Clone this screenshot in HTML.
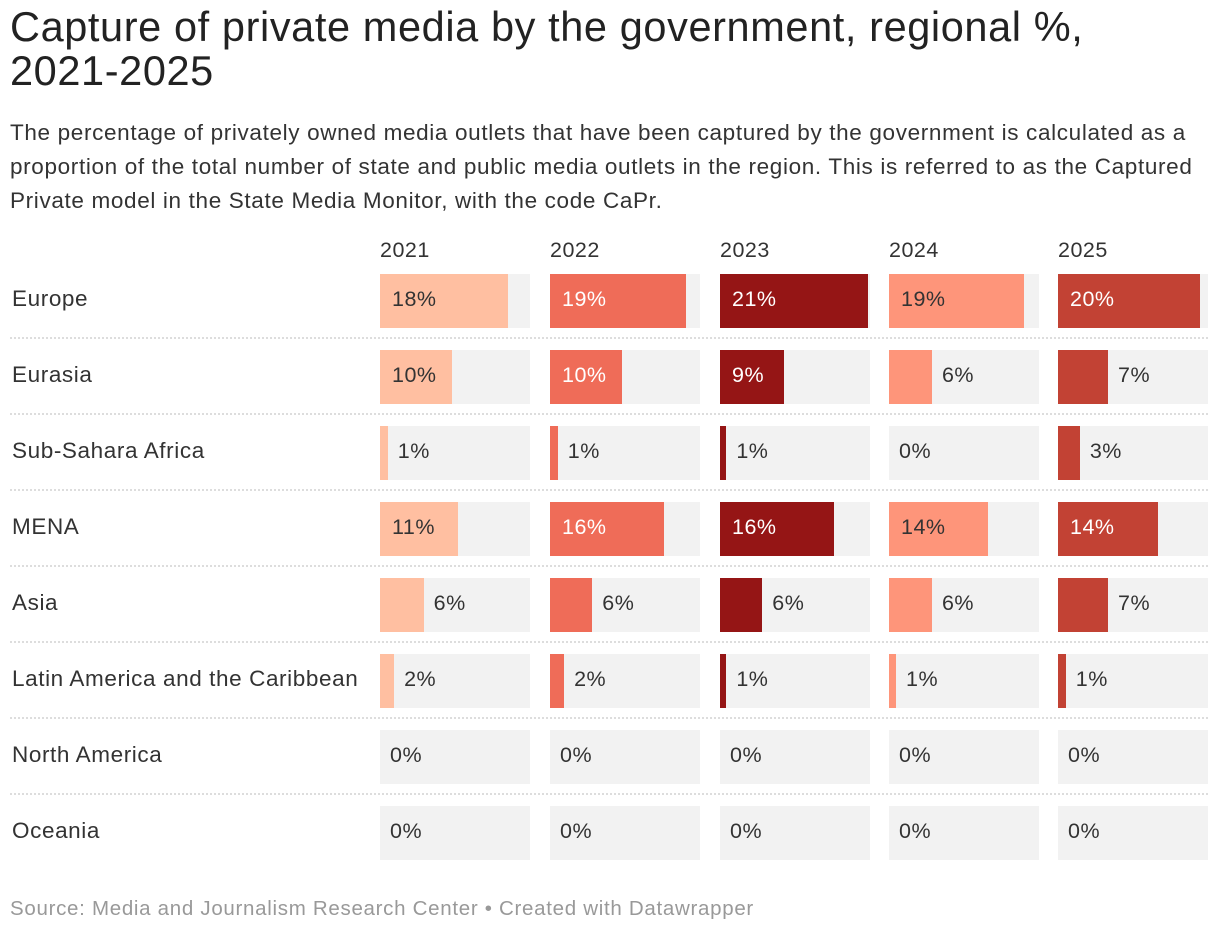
<!DOCTYPE html>
<html><head><meta charset="utf-8">
<style>
body{margin:0;background:#fff;font-family:"Liberation Sans",Arial,sans-serif;color:#333;}
#wrap{position:relative;width:1220px;height:934px;overflow:hidden;}
h1{position:absolute;left:10px;top:5px;margin:0;font-size:41.5px;font-weight:normal;line-height:44px;color:#222;width:1210px;white-space:nowrap;letter-spacing:0.6px;}
#desc{position:absolute;left:10px;top:116px;margin:0;font-size:22.5px;line-height:34px;color:#333;width:1210px;white-space:nowrap;letter-spacing:0.65px;}
.yr{position:absolute;top:238px;font-size:21.5px;color:#333;letter-spacing:0.5px;}
.rl{position:absolute;left:12px;font-size:22.5px;color:#333;line-height:50px;letter-spacing:0.6px;}
.bg{position:absolute;height:54px;background:#f2f2f2;}
.bar{position:absolute;height:54px;}
.val{position:absolute;font-size:21.5px;line-height:50px;letter-spacing:0.5px;}
.sep{position:absolute;left:10px;width:1198px;border-top:2px dotted #ddd;height:0;}
#src{position:absolute;left:10px;top:897px;font-size:20.5px;color:#999;letter-spacing:0.7px;}
</style></head><body>
<div id="wrap">
<h1>Capture of private media by the government, regional %,<br>2021-2025</h1>
<p id="desc">The percentage of privately owned media outlets that have been captured by the government is calculated as a<br>proportion of the total number of state and public media outlets in the region. This is referred to as the Captured<br>Private model in the State Media Monitor, with the code CaPr.</p>
<div id="grid"></div>
<div id="src">Source: Media and Journalism Research Center • Created with Datawrapper</div>
</div>
<script>
const regions=["Europe","Eurasia","Sub-Sahara Africa","MENA","Asia","Latin America and the Caribbean","North America","Oceania"];
const years=["2021","2022","2023","2024","2025"];
const v2021=[18.2,10.2,1.1,11.1,6.2,2.0,0,0];
const v2022=[19.3,10.2,1.1,16.2,6.0,2.0,0,0];
const v2023=[21.0,9.1,0.9,16.2,6.0,0.9,0,0];
const v2024=[19.1,6.1,0,14.0,6.1,1.0,0,0];
const v2025=[20.1,7.1,3.1,14.2,7.1,1.1,0,0];
const series=[v2021,v2022,v2023,v2024,v2025];
const colors=["#ffbfa1","#ef6c58","#951515","#fe957a","#c24234"];
const insideText=["#333","#fff","#fff","#333","#fff"];
const colX=[380,550,720,889,1058], colW=150, maxV=21.3;
const x=v=>v/maxV*colW;
const rowY=i=>274+i*76;
const g=document.getElementById('grid');
function add(cls,style,text){const d=document.createElement('div');d.className=cls;Object.assign(d.style,style);if(text!==undefined)d.textContent=text;g.appendChild(d);return d;}
years.forEach((y,j)=>{
  const e=add('yr',{left:colX[j]+'px'},y);
  
  
});
regions.forEach((r,i)=>{
  const l=add('rl',{top:rowY(i)+'px'},r);
  
  
  if(i<regions.length-1){
    const s=add('sep',{top:(rowY(i)+63)+'px'});
    
    
  }
  series.forEach((arr,j)=>{
    const v=arr[i];
    const bg=add('bg',{left:colX[j]+'px',top:rowY(i)+'px',width:colW+'px'});
    
    
    const w=x(v);
    const b=add('bar',{left:colX[j]+'px',top:rowY(i)+'px',width:w+'px',background:colors[j]});
    
    
    const txt=Math.round(v)+'%';
    const inside=w>=60;
    const t=add('val',{top:rowY(i)+'px',left:(inside?colX[j]+12:colX[j]+w+10)+'px',color:inside?insideText[j]:'#333'},txt);
    
    
  });
});
</script>
</body></html>
